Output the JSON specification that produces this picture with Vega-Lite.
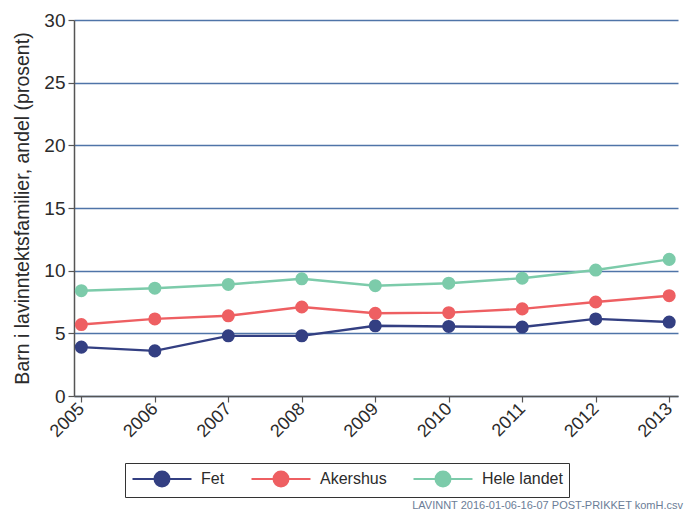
{
  "$schema": "https://vega.github.io/schema/vega-lite/v6.json",
  "width": 604,
  "height": 376,
  "autosize": {"type": "none"},
  "padding": {"left": 74, "top": 20, "right": 7, "bottom": 116},
  "background": "white",
  "config": {
    "font": "Liberation Sans",
    "view": {"stroke": null}
  },
  "title": {
    "text": "LAVINNT 2016-01-06-16-07 POST-PRIKKET komH.csv",
    "orient": "bottom",
    "anchor": "end",
    "frame": "group",
    "fontSize": 11,
    "fontWeight": "normal",
    "color": "#6b7d97",
    "offset": 2,
    "dx": 5
  },
  "data": {
    "values": [
      {"year": 2005, "region": "Fet", "value": 3.9},
      {"year": 2006, "region": "Fet", "value": 3.6},
      {"year": 2007, "region": "Fet", "value": 4.8},
      {"year": 2008, "region": "Fet", "value": 4.8},
      {"year": 2009, "region": "Fet", "value": 5.6},
      {"year": 2010, "region": "Fet", "value": 5.55},
      {"year": 2011, "region": "Fet", "value": 5.5},
      {"year": 2012, "region": "Fet", "value": 6.15},
      {"year": 2013, "region": "Fet", "value": 5.9},
      {"year": 2005, "region": "Akershus", "value": 5.7},
      {"year": 2006, "region": "Akershus", "value": 6.15},
      {"year": 2007, "region": "Akershus", "value": 6.4},
      {"year": 2008, "region": "Akershus", "value": 7.1},
      {"year": 2009, "region": "Akershus", "value": 6.6},
      {"year": 2010, "region": "Akershus", "value": 6.65},
      {"year": 2011, "region": "Akershus", "value": 6.95},
      {"year": 2012, "region": "Akershus", "value": 7.5},
      {"year": 2013, "region": "Akershus", "value": 8.0},
      {"year": 2005, "region": "Hele landet", "value": 8.4},
      {"year": 2006, "region": "Hele landet", "value": 8.6},
      {"year": 2007, "region": "Hele landet", "value": 8.9},
      {"year": 2008, "region": "Hele landet", "value": 9.35},
      {"year": 2009, "region": "Hele landet", "value": 8.8},
      {"year": 2010, "region": "Hele landet", "value": 9.0},
      {"year": 2011, "region": "Hele landet", "value": 9.4},
      {"year": 2012, "region": "Hele landet", "value": 10.05},
      {"year": 2013, "region": "Hele landet", "value": 10.9}
    ]
  },
  "encoding": {
    "x": {
      "field": "year",
      "type": "quantitative",
      "scale": {"domain": [2004.9, 2013.12], "nice": false, "zero": false},
      "axis": {
        "title": null,
        "values": [2005, 2006, 2007, 2008, 2009, 2010, 2011, 2012, 2013],
        "format": "d",
        "grid": false,
        "labelAngle": -45,
        "labelAlign": "right",
        "labelBaseline": "middle",
        "labelFontSize": 18,
        "labelColor": "#2b2b2b",
        "labelPadding": 4,
        "domainColor": "#555555",
        "domainWidth": 1.5,
        "tickColor": "#555555",
        "tickSize": 6,
        "tickWidth": 1.2
      }
    },
    "y": {
      "field": "value",
      "type": "quantitative",
      "scale": {"domain": [0, 30], "nice": false},
      "axis": {
        "title": "Barn i lavinntektsfamilier, andel (prosent)",
        "titleFontSize": 19.5,
        "titleFontWeight": "normal",
        "titleColor": "#2b2b2b",
        "titlePadding": 11,
        "values": [0, 5, 10, 15, 20, 25, 30],
        "labelFontSize": 19,
        "labelColor": "#2b2b2b",
        "labelPadding": 3,
        "grid": true,
        "gridColor": "#4f74a8",
        "gridWidth": 1.4,
        "domainColor": "#555555",
        "domainWidth": 1.5,
        "tickColor": "#555555",
        "tickSize": 6,
        "tickWidth": 1.2
      }
    },
    "color": {
      "field": "region",
      "type": "nominal",
      "sort": ["Fet", "Akershus", "Hele landet"],
      "scale": {
        "domain": ["Fet", "Akershus", "Hele landet"],
        "range": ["#333f82", "#ee5f62", "#7ccbaa"]
      },
      "legend": {
        "title": null,
        "orient": "none",
        "direction": "horizontal",
        "gridAlign": "none",
        "legendX": 51,
        "legendY": 443,
        "symbolType": "M-1,0L5.94,0M3.34,0A0.87,0.87 0 1 1 1.6,0A0.87,0.87 0 1 1 3.34,0Z",
        "symbolSize": 289,
        "symbolStrokeWidth": 2.2,
        "labelFontSize": 16,
        "labelColor": "#2b2b2b",
        "labelOffset": 50,
        "columnPadding": 22,
        "padding": 6,
        "strokeColor": "#333333",
        "fillColor": "white"
      }
    }
  },
  "layer": [
    {"mark": {"type": "line", "strokeWidth": 2.4}},
    {"mark": {"type": "point", "filled": true, "size": 170, "opacity": 1, "stroke": null}}
  ]
}
